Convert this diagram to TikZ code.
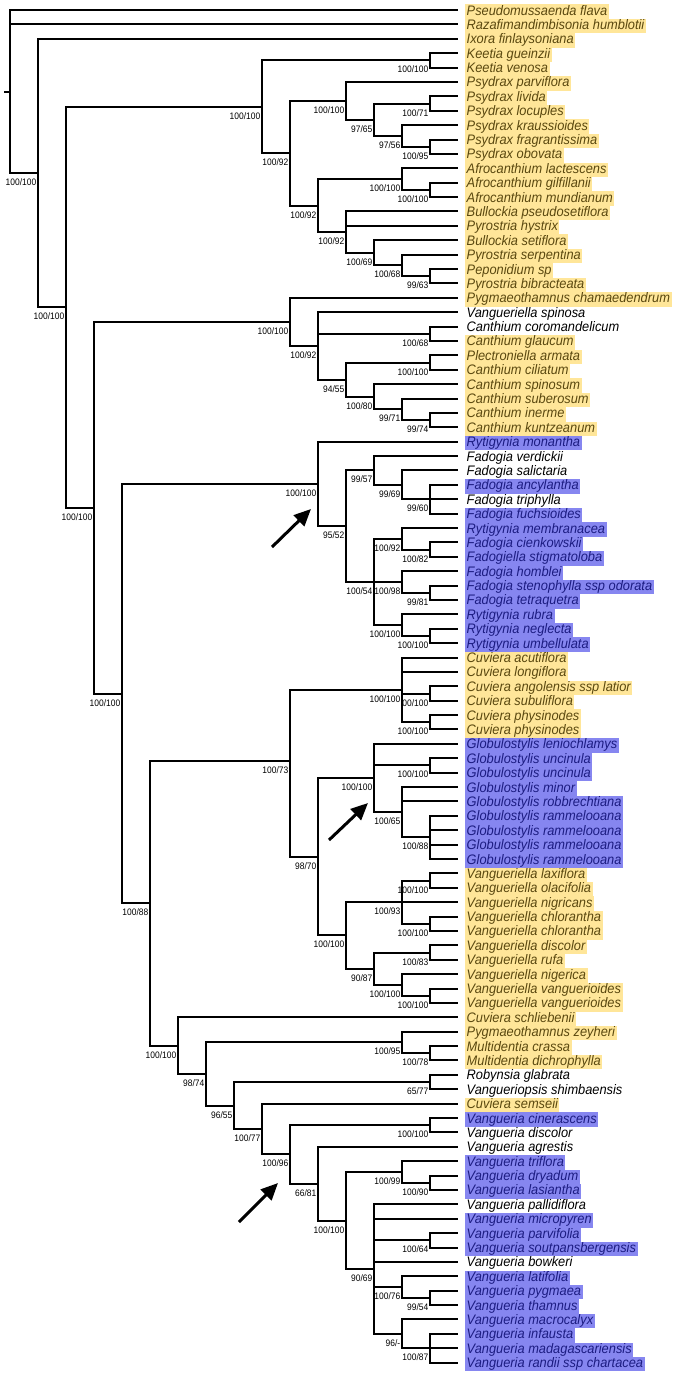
\documentclass[tikz,border=0pt]{standalone}
\usepackage{fontspec}
\setmainfont{Liberation Sans}
\newfontfamily\leaffont[FakeStretch=0.93]{Liberation Sans}
\newfontfamily\supfont[FakeStretch=0.9]{Liberation Sans}
\usetikzlibrary{arrows.meta}
\definecolor{hlY}{RGB}{255,230,153}
\definecolor{hlB}{RGB}{134,134,240}
\definecolor{txY}{RGB}{90,72,15}
\definecolor{txB}{RGB}{28,28,130}
\tikzset{
 branch/.style={line width=2pt, line join=miter},
 leaflab/.style={anchor=west, xshift=7pt, yshift=-1.5pt, inner xsep=1.5pt, inner ysep=1.05pt, text height=9.7pt, text depth=2.7pt, font=\leaffont\itshape\fontsize{13.8}{14}\selectfont},
 labY/.style={leaflab, fill=hlY, text=txY},
 labB/.style={leaflab, fill=hlB, text=txB},
 labN/.style={leaflab, text=black},
 suplab/.style={anchor=east, inner sep=0pt, xshift=-1.5pt, yshift=-9.5pt, font=\supfont\fontsize{9.4}{10}\selectfont},
 pointer/.style={line width=3pt, -{Triangle[length=17pt,width=15pt]}}
}
\newcommand\tn[3]{\coordinate (#1) at (#2,{round(10+(#3-1)*14.39)});}
\newcommand\lf[3]{\coordinate (l#1) at (458,{round(10+(#1-1)*14.39)}); \node[lab#2] (t#1) at (458,{10+(#1-1)*14.39}) {#3};}
\newcommand\br[2]{\foreach \ch in {#2}{\draw[branch] (#1) |- (\ch);}}
\newcommand\supp[2]{\node[suplab] (s#1) at (#1) {#2};}
\begin{document}
\begin{tikzpicture}[x=1pt,y=-1pt]
\useasboundingbox (0,0) rectangle (675,1377);
% leaves
\lf{1}{Y}{Pseudomussaenda flava}
\lf{2}{Y}{Razafimandimbisonia humblotii}
\lf{3}{Y}{Ixora finlaysoniana}
\lf{4}{Y}{Keetia gueinzii}
\lf{5}{Y}{Keetia venosa}
\lf{6}{Y}{Psydrax parviflora}
\lf{7}{Y}{Psydrax livida}
\lf{8}{Y}{Psydrax locuples}
\lf{9}{Y}{Psydrax kraussioides}
\lf{10}{Y}{Psydrax fragrantissima}
\lf{11}{Y}{Psydrax obovata}
\lf{12}{Y}{Afrocanthium lactescens}
\lf{13}{Y}{Afrocanthium gilfillanii}
\lf{14}{Y}{Afrocanthium mundianum}
\lf{15}{Y}{Bullockia pseudosetiflora}
\lf{16}{Y}{Pyrostria hystrix}
\lf{17}{Y}{Bullockia setiflora}
\lf{18}{Y}{Pyrostria serpentina}
\lf{19}{Y}{Peponidium sp}
\lf{20}{Y}{Pyrostria bibracteata}
\lf{21}{Y}{Pygmaeothamnus chamaedendrum}
\lf{22}{N}{Vangueriella spinosa}
\lf{23}{N}{Canthium coromandelicum}
\lf{24}{Y}{Canthium glaucum}
\lf{25}{Y}{Plectroniella armata}
\lf{26}{Y}{Canthium ciliatum}
\lf{27}{Y}{Canthium spinosum}
\lf{28}{Y}{Canthium suberosum}
\lf{29}{Y}{Canthium inerme}
\lf{30}{Y}{Canthium kuntzeanum}
\lf{31}{B}{Rytigynia monantha}
\lf{32}{N}{Fadogia verdickii}
\lf{33}{N}{Fadogia salictaria}
\lf{34}{B}{Fadogia ancylantha}
\lf{35}{N}{Fadogia triphylla}
\lf{36}{B}{Fadogia fuchsioides}
\lf{37}{B}{Rytigynia membranacea}
\lf{38}{B}{Fadogia cienkowskii}
\lf{39}{B}{Fadogiella stigmatoloba}
\lf{40}{B}{Fadogia homblei}
\lf{41}{B}{Fadogia stenophylla ssp odorata}
\lf{42}{B}{Fadogia tetraquetra}
\lf{43}{B}{Rytigynia rubra}
\lf{44}{B}{Rytigynia neglecta}
\lf{45}{B}{Rytigynia umbellulata}
\lf{46}{Y}{Cuviera acutiflora}
\lf{47}{Y}{Cuviera longiflora}
\lf{48}{Y}{Cuviera angolensis ssp latior}
\lf{49}{Y}{Cuviera subuliflora}
\lf{50}{Y}{Cuviera physinodes}
\lf{51}{Y}{Cuviera physinodes}
\lf{52}{B}{Globulostylis leniochlamys}
\lf{53}{B}{Globulostylis uncinula}
\lf{54}{B}{Globulostylis uncinula}
\lf{55}{B}{Globulostylis minor}
\lf{56}{B}{Globulostylis robbrechtiana}
\lf{57}{B}{Globulostylis rammelooana}
\lf{58}{B}{Globulostylis rammelooana}
\lf{59}{B}{Globulostylis rammelooana}
\lf{60}{B}{Globulostylis rammelooana}
\lf{61}{Y}{Vangueriella laxiflora}
\lf{62}{Y}{Vangueriella olacifolia}
\lf{63}{Y}{Vangueriella nigricans}
\lf{64}{Y}{Vangueriella chlorantha}
\lf{65}{Y}{Vangueriella chlorantha}
\lf{66}{Y}{Vangueriella discolor}
\lf{67}{Y}{Vangueriella rufa}
\lf{68}{Y}{Vangueriella nigerica}
\lf{69}{Y}{Vangueriella vanguerioides}
\lf{70}{Y}{Vangueriella vanguerioides}
\lf{71}{Y}{Cuviera schliebenii}
\lf{72}{Y}{Pygmaeothamnus zeyheri}
\lf{73}{Y}{Multidentia crassa}
\lf{74}{Y}{Multidentia dichrophylla}
\lf{75}{N}{Robynsia glabrata}
\lf{76}{N}{Vangueriopsis shimbaensis}
\lf{77}{Y}{Cuviera semseii}
\lf{78}{B}{Vangueria cinerascens}
\lf{79}{N}{Vangueria discolor}
\lf{80}{N}{Vangueria agrestis}
\lf{81}{B}{Vangueria triflora}
\lf{82}{B}{Vangueria dryadum}
\lf{83}{B}{Vangueria lasiantha}
\lf{84}{N}{Vangueria pallidiflora}
\lf{85}{B}{Vangueria micropyren}
\lf{86}{B}{Vangueria parvifolia}
\lf{87}{B}{Vangueria soutpansbergensis}
\lf{88}{N}{Vangueria bowkeri}
\lf{89}{B}{Vangueria latifolia}
\lf{90}{B}{Vangueria pygmaea}
\lf{91}{B}{Vangueria thamnus}
\lf{92}{B}{Vangueria macrocalyx}
\lf{93}{B}{Vangueria infausta}
\lf{94}{B}{Vangueria madagascariensis}
\lf{95}{B}{Vangueria randii ssp chartacea}
% internal nodes
\tn{root}{10}{6.665}
\tn{A}{38}{12.329}
\tn{B}{66}{21.658}
\tn{K}{262}{7.7266}
\tn{KE}{430}{4.5}
\tn{P}{290}{10.9531}
\tn{Q}{346}{7.3125}
\tn{Q2}{374}{8.625}
\tn{Q3}{430}{7.5}
\tn{Q4}{402}{9.75}
\tn{Q5}{430}{10.5}
\tn{R}{318}{14.5938}
\tn{R1}{402}{12.75}
\tn{R1b}{430}{13.5}
\tn{R2}{346}{16.4375}
\tn{R3}{374}{17.875}
\tn{R4}{402}{18.75}
\tn{R5}{430}{19.5}
\tn{D}{94}{35.589}
\tn{C1}{290}{22.6719}
\tn{C2}{318}{24.3438}
\tn{C3}{430}{23.5}
\tn{C4}{346}{26.6875}
\tn{C5}{430}{25.5}
\tn{C6}{374}{27.875}
\tn{C7}{402}{28.75}
\tn{C8}{430}{29.5}
\tn{E}{122}{48.506}
\tn{F}{318}{33.9375}
\tn{F1}{346}{36.875}
\tn{F2}{374}{33}
\tn{F3}{402}{34}
\tn{F4}{430}{35}
\tn{F5}{374}{40.75}
\tn{F6}{402}{37.75}
\tn{F7}{430}{38.5}
\tn{F8}{402}{40.75}
\tn{F9}{430}{41.5}
\tn{F10}{402}{43.75}
\tn{F11}{430}{44.5}
\tn{G}{150}{63.085}
\tn{H}{290}{53.2}
\tn{H1}{402}{48.25}
\tn{H1a}{430}{48.5}
\tn{H1b}{430}{50.5}
\tn{H2}{318}{59.8438}
\tn{H3}{374}{54.375}
\tn{H3b}{430}{53.5}
\tn{H3c}{402}{56.75}
\tn{H3d}{430}{58.5}
\tn{H4}{346}{65.3125}
\tn{H5}{402}{63}
\tn{H5a}{430}{61.5}
\tn{H5b}{430}{64.5}
\tn{H7}{374}{67.625}
\tn{H7a}{430}{66.5}
\tn{H8}{402}{68.75}
\tn{H8a}{430}{69.5}
\tn{I}{178}{72.9707}
\tn{J}{206}{74.9414}
\tn{J1}{402}{72.75}
\tn{J1a}{430}{73.5}
\tn{J2}{234}{77.1328}
\tn{J3}{430}{75.5}
\tn{J4}{262}{78.7656}
\tn{J5}{290}{80.5313}
\tn{J6}{430}{78.5}
\tn{J7}{318}{82.5625}
\tn{J8}{346}{85.125}
\tn{J9}{402}{81.75}
\tn{J9a}{430}{82.5}
\tn{J10}{374}{88.5}
\tn{J11}{430}{86.5}
\tn{J12}{402}{89.75}
\tn{J12a}{430}{90.5}
\tn{J13}{402}{93}
\tn{J13a}{430}{94}
\coordinate (rstub) at (4,{round(10+(6.665-1)*14.39)});
% branches
\draw[branch] (rstub) -- (root);
\br{root}{l1,l2,A}
\br{A}{l3,B}
\br{B}{K,D}
\br{K}{KE,P}
\br{KE}{l4,l5}
\br{P}{Q,R}
\br{Q}{l6,Q2}
\br{Q2}{Q3,Q4}
\br{Q3}{l7,l8}
\br{Q4}{l9,Q5}
\br{Q5}{l10,l11}
\br{R}{R1,R2}
\br{R1}{l12,R1b}
\br{R1b}{l13,l14}
\br{R2}{l15,l16,R3}
\br{R3}{l17,R4}
\br{R4}{l18,R5}
\br{R5}{l19,l20}
\br{D}{C1,E}
\br{C1}{l21,C2}
\br{C2}{l22,C3,C4}
\br{C3}{l23,l24}
\br{C4}{C5,C6}
\br{C5}{l25,l26}
\br{C6}{l27,C7}
\br{C7}{l28,C8}
\br{C8}{l29,l30}
\br{E}{F,G}
\br{F}{l31,F1}
\br{F1}{F2,F5}
\br{F2}{l32,F3}
\br{F3}{l33,F4}
\br{F4}{l34,l35,l36}
\br{F5}{F6,F8,F10}
\br{F6}{l37,F7}
\br{F7}{l38,l39}
\br{F8}{l40,F9}
\br{F9}{l41,l42}
\br{F10}{l43,F11}
\br{F11}{l44,l45}
\br{G}{H,I}
\br{H}{H1,H2}
\br{H1}{l46,l47,H1a,H1b}
\br{H1a}{l48,l49}
\br{H1b}{l50,l51}
\br{H2}{H3,H4}
\br{H3}{l52,H3b,H3c}
\br{H3b}{l53,l54}
\br{H3c}{l55,l56,H3d}
\br{H3d}{l57,l58,l59,l60}
\br{H4}{H5,H7}
\br{H5}{H5a,l63,H5b}
\br{H5a}{l61,l62}
\br{H5b}{l64,l65}
\br{H7}{H7a,H8}
\br{H7a}{l66,l67}
\br{H8}{l68,H8a}
\br{H8a}{l69,l70}
\br{I}{l71,J}
\br{J}{J1,J2}
\br{J1}{l72,J1a}
\br{J1a}{l73,l74}
\br{J2}{J3,J4}
\br{J3}{l75,l76}
\br{J4}{l77,J5}
\br{J5}{J6,J7}
\br{J6}{l78,l79}
\br{J7}{l80,J8}
\br{J8}{J9,J10}
\br{J9}{l81,J9a}
\br{J9a}{l82,l83}
\br{J10}{l84,l85,J11,l88,J12,J13}
\br{J11}{l86,l87}
\br{J12}{l89,J12a}
\br{J12a}{l90,l91}
\br{J13}{l92,J13a}
\br{J13a}{l93,l94,l95}
% support values
\supp{A}{100/100}
\supp{B}{100/100}
\supp{K}{100/100}
\supp{KE}{100/100}
\supp{P}{100/92}
\supp{Q}{100/100}
\supp{Q2}{97/65}
\supp{Q3}{100/71}
\supp{Q4}{97/56}
\supp{Q5}{100/95}
\supp{R}{100/92}
\supp{R1}{100/100}
\supp{R1b}{100/100}
\supp{R2}{100/92}
\supp{R3}{100/69}
\supp{R4}{100/68}
\supp{R5}{99/63}
\supp{D}{100/100}
\supp{C1}{100/100}
\supp{C2}{100/92}
\supp{C3}{100/68}
\supp{C4}{94/55}
\supp{C5}{100/100}
\supp{C6}{100/80}
\supp{C7}{99/71}
\supp{C8}{99/74}
\supp{E}{100/100}
\supp{F}{100/100}
\supp{F1}{95/52}
\supp{F2}{99/57}
\supp{F3}{99/69}
\supp{F4}{99/60}
\supp{F5}{100/54}
\supp{F6}{100/92}
\supp{F7}{100/82}
\supp{F8}{100/98}
\supp{F9}{99/81}
\supp{F10}{100/100}
\supp{F11}{100/100}
\supp{G}{100/88}
\supp{H}{100/73}
\supp{H1}{100/100}
\supp{H1a}{00/100}
\supp{H1b}{100/100}
\supp{H2}{98/70}
\supp{H3}{100/100}
\supp{H3b}{100/100}
\supp{H3c}{100/65}
\supp{H3d}{100/88}
\supp{H4}{100/100}
\supp{H5}{100/93}
\supp{H5a}{100/100}
\supp{H5b}{100/100}
\supp{H7}{90/87}
\supp{H7a}{100/83}
\supp{H8}{100/100}
\supp{H8a}{100/100}
\supp{I}{100/100}
\supp{J}{98/74}
\supp{J1}{100/95}
\supp{J1a}{100/78}
\supp{J2}{96/55}
\supp{J3}{65/77}
\supp{J4}{100/77}
\supp{J5}{100/96}
\supp{J6}{100/100}
\supp{J7}{66/81}
\supp{J8}{100/100}
\supp{J9}{100/99}
\supp{J9a}{100/90}
\supp{J10}{90/69}
\supp{J11}{100/64}
\supp{J12}{100/76}
\supp{J12a}{99/54}
\supp{J13}{96/-}
\supp{J13a}{100/87}
% pointer arrows
\coordinate (a1s) at (272,547); \coordinate (a1e) at (311,509);
\coordinate (a2s) at (329,840); \coordinate (a2e) at (368,803);
\coordinate (a3s) at (239,1222); \coordinate (a3e) at (278,1183);
\draw[pointer] (a1s) -- (a1e);
\draw[pointer] (a2s) -- (a2e);
\draw[pointer] (a3s) -- (a3e);
\end{tikzpicture}
\end{document}
